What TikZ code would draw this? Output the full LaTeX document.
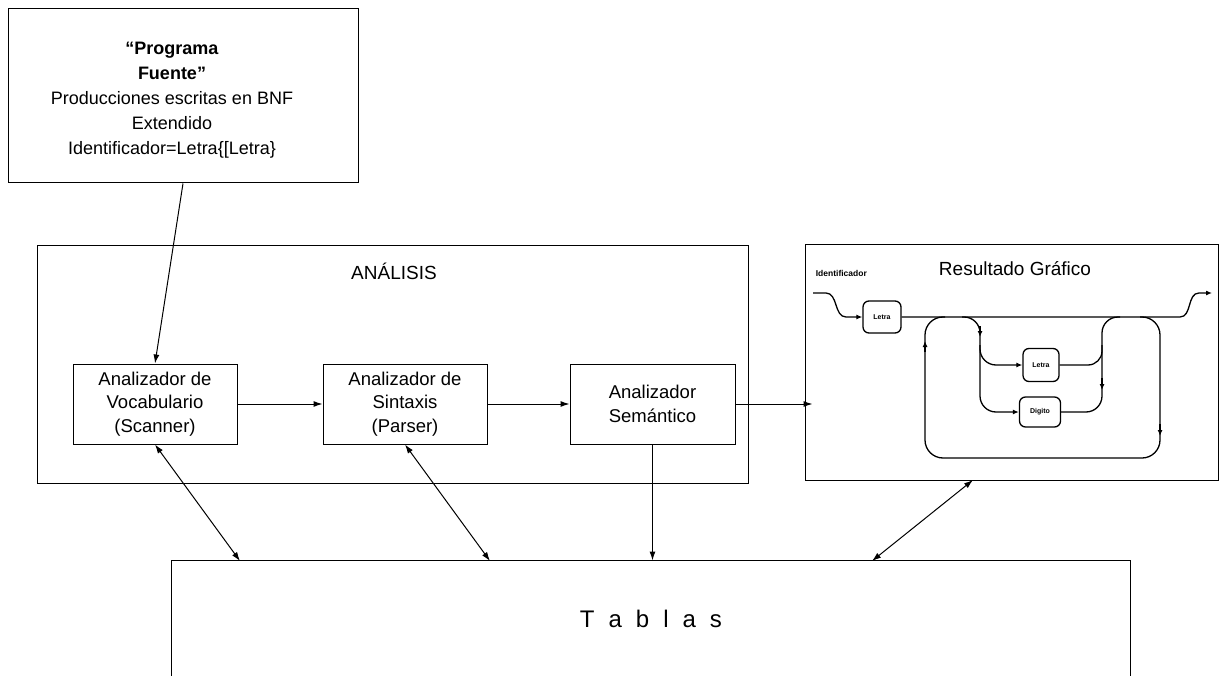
\documentclass[tikz,border=0pt]{standalone}
\usepackage{fontspec}
\setmainfont{Liberation Sans}
\usetikzlibrary{arrows.meta,calc}
\begin{document}
\begin{tikzpicture}[x=1pt,y=-1pt,line width=1pt,
  box/.style={draw,line width=1pt,inner sep=0pt,align=center},
  boxtext/.style={font=\fontsize{18.5}{23.5}\selectfont,align=center},
  arr/.style={-{Latex[length=9pt,width=6pt]}},
  darr/.style={{Latex[length=9pt,width=6pt]}-{Latex[length=9pt,width=6pt]}},
  rr/.style={draw,rounded corners=6pt,line width=1.3pt,minimum width=38pt,minimum height=32pt,inner sep=0pt,font=\fontsize{7}{8}\selectfont\bfseries},
  rail/.style={line width=1.3pt},
  railarr/.style={-{Latex[length=6pt,width=5pt]},line width=1.3pt},
]
\useasboundingbox (0,0) rectangle (1220,676);
\fill[white] (0,0) rectangle (1220,676);

% source program
\node[box,minimum width=350pt,minimum height=174pt] (src) at (183,96) {};
\node[font=\fontsize{18}{25}\selectfont,align=center] (srctext) at (172,100)
  {\textbf{“Programa}\\\textbf{Fuente”}\\Producciones escritas en BNF\\Extendido\\Identificador=Letra\{[Letra\}};

% analysis block
\node[box,minimum width=711pt,minimum height=237pt] (ana) at (392.5,364.5) {};
\node[font=\fontsize{19}{22}\selectfont] (anatitle) at (394,271) {ANÁLISIS};
\node[box,boxtext,minimum width=164pt,minimum height=80pt] (b1) at (155,404) {Analizador de\\Vocabulario\\(Scanner)};
\node[box,boxtext,minimum width=164pt,minimum height=80pt] (b2) at (405,404) {Analizador de\\Sintaxis\\(Parser)};
\node[box,boxtext,minimum width=165pt,minimum height=80pt] (b3) at (652.5,404) {Analizador\\Semántico};

% graphic result
\node[box,minimum width=413pt,minimum height=235pt] (res) at (1011.5,362.5) {};
\node[font=\fontsize{19}{22}\selectfont] (restitle) at (1015,269) {Resultado Gráfico};

% tables
\node[minimum width=958pt,minimum height=115pt,inner sep=0pt] (tab) at (651,618.5)
  {\fontsize{24}{28}\selectfont T\hspace{14pt}a\hspace{14pt}b\hspace{14pt}l\hspace{14pt}a\hspace{14pt}s};
\draw (tab.south west) -- (tab.north west) -- (tab.north east) -- (tab.south east);

% connectors
\coordinate (t1) at (240,561);
\coordinate (t2) at (490,561);
\coordinate (t4) at (872,561);
\coordinate (r1) at (973,480);
\draw[arr] (src.south) -- (b1.north);
\draw[arr] (b1.east) -- (b2.west);
\draw[arr] (b2.east) -- (b3.west);
\draw[arr] (b3.east) -- ($(b3.east -| res.west)+(8,0)$);
\draw[darr] (b1.south) -- (t1);
\draw[darr] (b2.south) -- (t2);
\draw[arr] (b3.south) -- (b3.south |- tab.north);
\draw[darr] (r1) -- (t4);

% syntax diagram: Identificador = Letra {Letra | Digito}
\node[font=\fontsize{8.5}{9}\selectfont\bfseries,anchor=west] (idlab) at (812,273) {Identificador};
\node[rr] (l1) at (882,317) {Letra};
\node[rr,minimum width=36pt,minimum height=33pt] (l2) at (1041,365) {Letra};
\node[rr,minimum width=41pt,minimum height=30pt] (dg) at (1040,412) {Digito};
\coordinate (in) at (813,293);
\coordinate (out) at (1212,293);
\draw[railarr] (in) -- (826,293) .. controls (838,293) and (834,317) .. (846,317) -- (l1.west);
\draw[railarr] (l1.east) -- (1180,317) .. controls (1192,317) and (1187,293) .. (1199,293) -- (out);
% repetition loop
\draw[rail,rounded corners=18pt] (1140,317) -- (1160,317) -- (1160,458) -- (925,458) -- (925,317) -- (945,317);
% alternatives
\draw[railarr,rounded corners=16pt] (962,317) -- (980,317) -- (980,412) -- (dg.west);
\draw[railarr,rounded corners=16pt] (980,345) -- (980,365) -- (l2.west);
\draw[rail,rounded corners=16pt] (dg.east) -- (1102,412) -- (1102,317) -- (1120,317);
\draw[rail,rounded corners=14pt] (l2.east) -- (1102,365) -- (1102,345);
% direction marks
\draw[railarr] (925,352) -- (925,341);
\draw[railarr] (1160,424) -- (1160,436);
\draw[railarr] (980,326) -- (980,337);
\draw[railarr] (1102,378) -- (1102,390);
\end{tikzpicture}
\end{document}
